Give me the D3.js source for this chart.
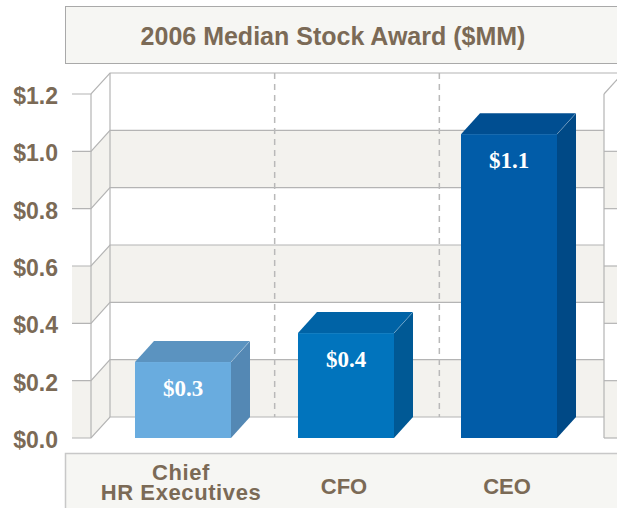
<!DOCTYPE html>
<html>
<head>
<meta charset="utf-8">
<script src="https://cdn.jsdelivr.net/npm/d3@7"></script>
<style>
  body { margin: 0; background: #fff; }
  svg { display: block; }
</style>
</head>
<body>
<div id="chart"></div>
<script>
// data
const categories = ["Chief HR Executives", "CFO", "CEO"];
const categoryLines = [["Chief", "HR Executives"], ["CFO"], ["CEO"]];
const values = [0.265, 0.366, 1.06];
const valueLabels = ["$0.3", "$0.4", "$1.1"];
const yTicks = [0, 0.2, 0.4, 0.6, 0.8, 1.0, 1.2];
const title = "2006 Median Stock Award ($MM)";

const barColors = [
    { front: "#69acdf", top: "#5b93c0", side: "#5488b4" },
    { front: "#0174bd", top: "#0063a6", side: "#005995" },
    { front: "#015ca8", top: "#004e91", side: "#004986" }
];

const W = 617, H = 508;
const depthX = 19, depthY = -21;
const wallX = 91;          // front edge of the left wall
const backRight = 604;     // where the back wall stops
const textColor = "#7b6a56";
const lineColor = "#b4b4b4";
const bandFill = "#f3f2ee";

const svg = d3.select("#chart").append("svg")
    .attr("width", W).attr("height", H);

const y = d3.scaleLinear().domain([0, 1.2]).range([438, 94]);

// bars sit on the front plane
const x = d3.scaleBand().domain(categories)
    .range([101.5, 590.5]).paddingInner(0.411).paddingOuter(0.2055);

// bands along the back wall for the dashed separators
const xBack = d3.scaleBand().domain(categories).range([wallX + depthX, backRight]);

// title box
svg.append("rect")
    .attr("x", 65.5).attr("y", 6.5).attr("width", 600).attr("height", 57)
    .attr("fill", "#f6f6f3").attr("stroke", "#a9a9a9");
svg.append("text")
    .attr("x", 333).attr("y", 45)
    .attr("text-anchor", "middle")
    .attr("font-family", "'Liberation Sans', Arial, sans-serif")
    .attr("font-weight", "bold").attr("font-size", 25)
    .attr("fill", textColor)
    .text(title);

// shaded bands: every other interval, starting at the bottom
const bands = d3.pairs(yTicks).filter((d, i) => i % 2 === 0);

const g = svg.append("g");

// tick area in front of the left wall
g.selectAll(".tickband").data(bands).join("rect")
    .attr("x", 72).attr("width", wallX - 72)
    .attr("y", d => y(d[1])).attr("height", d => y(d[0]) - y(d[1]))
    .attr("fill", bandFill);

// left wall parallelograms
g.selectAll(".wallband").data(bands).join("path")
    .attr("d", d => `M${wallX},${y(d[0])}L${wallX + depthX},${y(d[0]) + depthY}` +
        `L${wallX + depthX},${y(d[1]) + depthY}L${wallX},${y(d[1])}Z`)
    .attr("fill", bandFill);

// back wall bands
g.selectAll(".backband").data(bands).join("rect")
    .attr("x", wallX + depthX).attr("width", backRight - wallX - depthX)
    .attr("y", d => y(d[1]) + depthY).attr("height", d => y(d[0]) - y(d[1]))
    .attr("fill", bandFill);

// next panel's wall peeking in on the right edge
g.selectAll(".rightband").data(bands).join("rect")
    .attr("x", backRight).attr("width", W - backRight)
    .attr("y", d => y(d[1])).attr("height", d => y(d[0]) - y(d[1]))
    .attr("fill", bandFill);

// grid lines: tick stub + wall diagonal + back wall
yTicks.forEach(t => {
    const yf = y(t), yb = y(t) + depthY;
    g.append("path")
        .attr("d", `M72,${yf}L${wallX},${yf}L${wallX + depthX},${yb}L${t === 1.2 ? W : backRight},${yb}`)
        .attr("fill", "none").attr("stroke", lineColor).attr("stroke-width", 1.2);
    if (t < 1.2) {
        g.append("line")
            .attr("x1", backRight).attr("x2", W).attr("y1", yf).attr("y2", yf)
            .attr("stroke", lineColor).attr("stroke-width", 1.2);
    }
});

// wall verticals
[[wallX, 0], [wallX + depthX, depthY], [backRight, 0]].forEach(([vx, off]) => {
    g.append("line")
        .attr("x1", vx).attr("x2", vx)
        .attr("y1", y(1.2) + off).attr("y2", y(0) + off)
        .attr("stroke", lineColor).attr("stroke-width", 1.2);
});
g.append("line")
    .attr("x1", backRight).attr("y1", y(1.2))
    .attr("x2", backRight + depthX).attr("y2", y(1.2) + depthY)
    .attr("stroke", lineColor).attr("stroke-width", 1.2);

// dashed separators on the back wall
g.selectAll(".sep").data(categories.slice(1)).join("line")
    .attr("x1", d => xBack(d)).attr("x2", d => xBack(d))
    .attr("y1", y(1.2) + depthY).attr("y2", y(0) + depthY)
    .attr("stroke", "#b9b9b9").attr("stroke-width", 1.5)
    .attr("stroke-dasharray", "6,5");

// y axis labels
svg.selectAll(".ylab").data(yTicks).join("text")
    .attr("x", 58).attr("y", d => y(d) + 10)
    .attr("text-anchor", "end")
    .attr("font-family", "'Liberation Sans', Arial, sans-serif")
    .attr("font-weight", "bold").attr("font-size", 23)
    .attr("fill", textColor)
    .text(d => "$" + d.toFixed(1));

// 3d bars
const bars = svg.selectAll(".bar").data(values).join("g");
bars.each(function (v, i) {
    const b = d3.select(this);
    const x0 = x(categories[i]), x1 = x0 + x.bandwidth();
    const yt = y(v), y0 = y(0);
    const c = barColors[i];
    b.append("path")
        .attr("d", `M${x1},${yt}L${x1 + depthX},${yt + depthY}L${x1 + depthX},${y0 + depthY}L${x1},${y0}Z`)
        .attr("fill", c.side);
    b.append("path")
        .attr("d", `M${x0},${yt}L${x0 + depthX},${yt + depthY}L${x1 + depthX},${yt + depthY}L${x1},${yt}Z`)
        .attr("fill", c.top);
    b.append("rect")
        .attr("x", x0).attr("y", yt).attr("width", x.bandwidth()).attr("height", y0 - yt)
        .attr("fill", c.front);
    b.append("path")
        .attr("d", `M${x1},${yt}L${x1 + depthX},${yt + depthY}`)
        .attr("stroke", "rgba(255,255,255,0.25)").attr("stroke-width", 1);
    b.append("text")
        .attr("x", (x0 + x1) / 2).attr("y", yt + 34)
        .attr("text-anchor", "middle")
        .attr("font-family", "'Liberation Serif', 'Times New Roman', serif")
        .attr("font-weight", "bold").attr("font-size", 23)
        .attr("fill", "#fff")
        .text(valueLabels[i]);
});

// category box
svg.append("rect")
    .attr("x", 65.5).attr("y", 453.5).attr("width", 600).attr("height", 80)
    .attr("fill", "#f6f6f3").attr("stroke", "#c8c8c8").attr("stroke-width", 1.5);

const catText = svg.selectAll(".cat").data(categories).join("text")
    .attr("text-anchor", "middle")
    .attr("font-family", "'Liberation Sans', Arial, sans-serif")
    .attr("font-weight", "bold").attr("font-size", 22)
    .attr("fill", textColor);
catText.each(function (d, i) {
    const lines = categoryLines[i];
    const cx = x(d) + x.bandwidth() / 2 - 2;
    const base = lines.length > 1 ? 480 : 494;
    d3.select(this).selectAll("tspan").data(lines).join("tspan")
        .attr("x", cx)
        .attr("y", (l, j) => base + j * 20)
        .attr("letter-spacing", lines.length > 1 ? 0.6 : 0)
        .text(l => l);
});
</script>
</body>
</html>
